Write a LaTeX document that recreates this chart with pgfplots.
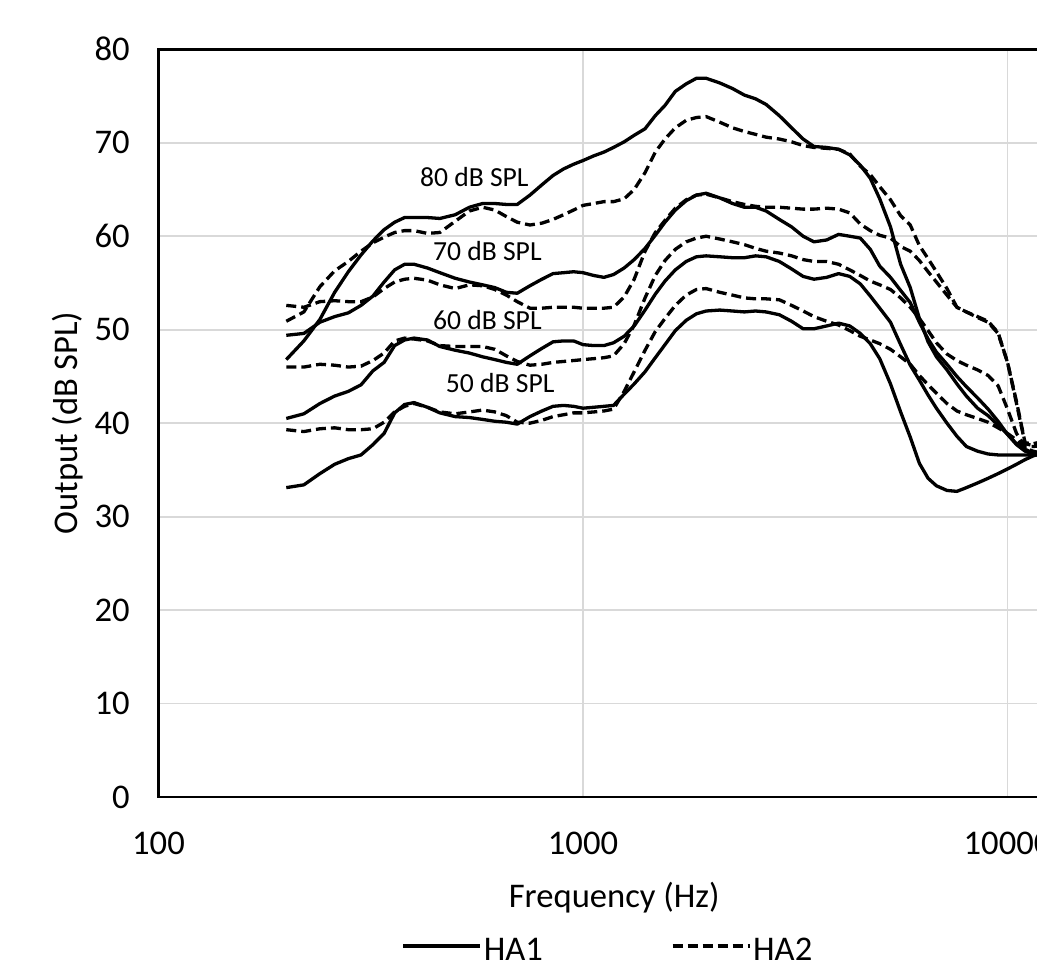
\documentclass[border=0pt]{standalone}
\usepackage{pgfplots}
\pgfplotsset{compat=1.18}
\usepackage{pgfplotstable}
\usepackage{fontspec}
\setmainfont{Carlito}
\definecolor{gridgray}{RGB}{217,217,217}

% HA1 (solid): output for input levels 50, 60, 70, 80 dB SPL
\pgfplotstableread{
f L50 L60 L70 L80
200 33.1 40.5 49.4 46.8
220 33.4 41.0 49.6 48.8
240 34.6 42.1 50.8 51.1
260 35.6 42.9 51.4 54.0
280 36.2 43.4 51.8 56.2
300 36.6 44.1 52.6 58.0
320 37.7 45.6 53.6 59.5
340 38.9 46.5 55.1 60.7
360 41.1 48.3 56.4 61.5
380 42.0 48.9 57.0 62.0
400 42.2 49.1 57.0 62.0
430 41.7 48.9 56.6 62.0
460 41.1 48.2 56.1 61.9
500 40.7 47.8 55.5 62.3
540 40.6 47.5 55.1 63.1
580 40.4 47.1 54.8 63.5
620 40.2 46.8 54.5 63.5
660 40.1 46.5 54.0 63.4
700 39.9 46.3 53.9 63.4
750 40.7 47.2 54.7 64.4
800 41.3 48.0 55.4 65.5
850 41.8 48.7 56.0 66.5
900 41.9 48.8 56.1 67.2
950 41.8 48.8 56.2 67.7
1000 41.6 48.4 56.1 68.1
1060 41.7 48.3 55.8 68.6
1120 41.8 48.3 55.6 69.0
1180 41.9 48.6 55.9 69.5
1250 43.1 49.3 56.6 70.1
1320 44.2 50.4 57.5 70.8
1400 45.5 52.1 58.7 71.5
1480 47.0 53.8 60.1 72.9
1560 48.4 55.2 61.5 74.0
1650 49.9 56.4 62.8 75.5
1750 51.0 57.3 63.8 76.3
1850 51.7 57.8 64.4 76.9
1950 52.0 57.9 64.6 76.9
2100 52.1 57.8 64.1 76.4
2250 52.0 57.7 63.5 75.8
2400 51.9 57.7 63.1 75.1
2550 52.0 57.9 63.1 74.7
2700 51.9 57.8 62.7 74.1
2900 51.6 57.3 61.8 72.9
3100 50.9 56.5 61.0 71.6
3300 50.1 55.7 60.0 70.4
3500 50.1 55.4 59.4 69.6
3750 50.4 55.6 59.6 69.5
4000 50.7 56.0 60.2 69.3
4250 50.4 55.7 60.0 68.7
4500 49.6 54.9 59.8 67.6
4750 48.5 53.6 58.6 66.2
5000 46.9 52.3 56.8 64.0
5300 44.2 50.8 55.6 61.0
5600 41.2 48.4 54.2 57.0
5900 38.5 46.2 52.9 54.5
6200 35.7 44.6 50.8 51.2
6500 34.1 43.0 49.0 48.7
6800 33.3 41.6 47.6 47.1
7200 32.8 40.0 46.3 45.7
7600 32.7 38.6 45.0 44.2
8000 33.1 37.5 43.9 42.9
8500 33.6 37.0 42.7 41.6
9000 34.1 36.7 41.5 40.8
9500 34.6 36.6 40.2 39.8
10000 35.1 36.6 38.8 38.8
10500 35.6 36.6 37.7 37.8
11000 36.1 36.6 37.0 37.2
11500 36.5 36.6 36.7 36.8
12000 36.8 36.6 36.5 36.5
}\haone

% HA2 (dashed)
\pgfplotstableread{
f L50 L60 L70 L80
200 39.3 46.0 52.6 50.9
220 39.1 46.0 52.4 51.9
240 39.4 46.3 53.0 54.6
260 39.5 46.2 53.1 56.3
280 39.3 46.0 53.0 57.3
300 39.3 46.1 53.0 58.4
320 39.4 46.7 53.5 59.3
340 40.1 47.5 54.4 59.9
360 41.2 48.8 55.1 60.4
380 41.8 49.1 55.4 60.6
400 42.1 49.0 55.5 60.6
430 41.7 48.8 55.3 60.3
460 41.2 48.3 54.8 60.4
500 41.0 48.2 54.4 61.6
540 41.2 48.2 54.8 62.7
580 41.4 48.2 54.7 63.1
620 41.2 47.9 54.3 62.8
660 40.8 47.2 53.7 62.1
700 40.1 46.6 53.0 61.5
750 40.0 46.2 52.3 61.2
800 40.3 46.3 52.3 61.4
850 40.7 46.5 52.4 61.8
900 40.9 46.6 52.4 62.3
950 41.1 46.7 52.4 62.8
1000 41.1 46.8 52.3 63.3
1060 41.2 46.9 52.3 63.5
1120 41.3 47.0 52.3 63.7
1180 41.5 47.2 52.4 63.7
1250 43.4 48.5 53.5 64.0
1320 45.5 50.5 55.4 65.0
1400 47.8 53.4 58.4 66.8
1480 49.8 55.8 60.4 69.0
1560 51.2 57.4 61.7 70.4
1650 52.6 58.6 63.0 71.6
1750 53.7 59.4 63.9 72.4
1850 54.3 59.8 64.4 72.7
1950 54.4 60.0 64.5 72.8
2100 54.0 59.7 64.1 72.2
2250 53.7 59.4 63.7 71.6
2400 53.4 59.1 63.4 71.2
2550 53.3 58.7 63.2 70.9
2700 53.3 58.4 63.1 70.6
2900 53.2 58.2 63.1 70.4
3100 52.6 57.9 63.0 70.1
3300 52.0 57.5 62.9 69.7
3500 51.4 57.3 62.9 69.5
3750 50.9 57.3 63.0 69.4
4000 50.5 57.0 62.9 69.3
4250 49.9 56.4 62.5 68.8
4500 49.3 55.8 61.3 67.5
4750 48.9 55.2 60.6 66.6
5000 48.5 54.8 60.1 65.3
5300 47.9 54.3 59.8 63.9
5600 47.1 53.4 58.9 62.2
5900 46.3 52.4 58.4 61.2
6200 45.1 51.2 57.4 59.0
6500 44.1 49.9 56.2 57.6
6800 43.2 48.6 55.1 56.2
7200 42.1 47.4 53.7 54.4
7600 41.3 46.7 52.4 52.4
8000 40.9 46.2 51.9 51.9
8500 40.5 45.7 51.3 51.4
9000 40.1 45.1 50.8 50.9
9500 39.5 44.0 49.6 49.7
10000 38.9 41.5 46.5 46.5
10500 38.2 38.9 42.1 42.3
11000 37.3 37.5 37.8 37.9
11500 37.0 37.5 37.6 37.8
12000 36.8 37.6 37.8 38.0
}\hatwo

\begin{document}
\begin{tikzpicture}
\path[use as bounding box] (-79.25pt,-85pt) rectangle (439.25pt,398.5pt);
\clip (-79.25pt,-85pt) rectangle (439.25pt,398.5pt);
\begin{axis}[
  at={(0pt,0pt)}, anchor=south west,
  scale only axis, width=455.75pt, height=373.85pt,
  xmode=log, xmin=100, xmax=14035, ymin=0, ymax=80,
  xtick={100,1000,10000}, xticklabels={100,1000,10000},
  ytick={0,10,20,30,40,50,60,70,80},
  yticklabels={0,10,20,30,40,50,60,70,80},
  /pgf/number format/assume math mode=true,
  grid=major,
  major grid style={draw=gridgray, line width=0.9pt},
  major tick length=0pt, minor tick length=0pt,
  tick style={draw=none},
  axis line style={line width=1.2pt, black},
  tick label style={font=\fontsize{17.3}{20}\selectfont},
  xticklabel style={anchor=base, yshift=-28.5pt},
  yticklabel style={anchor=east, inner sep=0pt, xshift=-14.2pt},
  xlabel={Frequency (Hz)}, ylabel={Output (dB SPL)},
  label style={font=\fontsize{17.3}{20}\selectfont},
  xlabel style={at={(axis description cs:0.5,-0.14712)}, anchor=base},
  ylabel style={at={(axis description cs:-0.09929,0.5)}, anchor=center, rotate=0},
  legend columns=2,
  legend style={at={(axis description cs:0.493,-0.2053)}, anchor=center,
    draw=none, fill=none, font=\fontsize{17.3}{20}\selectfont,
    /tikz/every even column/.append style={column sep=63pt},
    nodes={inner sep=1pt}},
  legend image code/.code={\draw[#1, yshift=0.22em] (0pt,0pt) -- (38.5pt,0pt);},
  solidc/.style={black, line width=1.65pt, line join=round},
  dashc/.style={black, line width=1.65pt, line join=round, dash pattern=on 5pt off 2.5pt},
]
\addplot[solidc] table[x=f,y=L50]{\haone};
\addlegendentry{HA1}
\addplot[dashc] table[x=f,y=L50]{\hatwo};
\addlegendentry{HA2}
\addplot[solidc, forget plot] table[x=f,y=L60]{\haone};
\addplot[solidc, forget plot] table[x=f,y=L70]{\haone};
\addplot[solidc, forget plot] table[x=f,y=L80]{\haone};
\addplot[dashc, forget plot] table[x=f,y=L60]{\hatwo};
\addplot[dashc, forget plot] table[x=f,y=L70]{\hatwo};
\addplot[dashc, forget plot] table[x=f,y=L80]{\hatwo};
\node[font=\fontsize{13.8}{16}\selectfont, anchor=base] at (axis cs:554.6,65.27) {80 dB SPL};
\node[font=\fontsize{13.8}{16}\selectfont, anchor=base] at (axis cs:595.2,57.38) {70 dB SPL};
\node[font=\fontsize{13.8}{16}\selectfont, anchor=base] at (axis cs:595.2,49.97) {60 dB SPL};
\node[font=\fontsize{13.8}{16}\selectfont, anchor=base] at (axis cs:638.1,43.26) {50 dB SPL};
\end{axis}
\end{tikzpicture}
\end{document}
